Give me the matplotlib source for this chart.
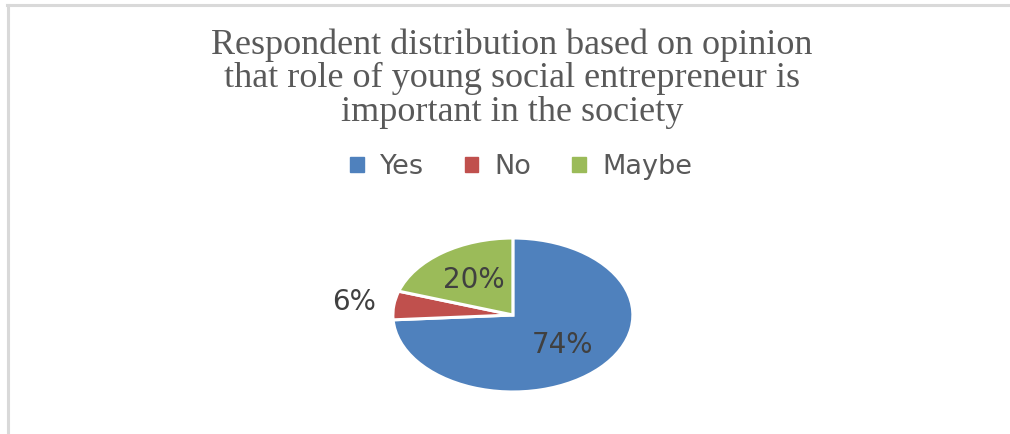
import matplotlib
matplotlib.use("Agg")
import matplotlib.pyplot as plt
import numpy as np

# data
categories = ["Yes", "No", "Maybe"]
shares = [74, 6, 20]
colors = ["#4F81BD", "#C0504D", "#9BBB59"]
label_dist = [0.57, 1.33, 0.56]

title = ("Respondent distribution based on opinion\n"
         "that role of young social entrepreneur is\n"
         "important in the society")

fig = plt.figure(figsize=(10.10, 4.34), dpi=100)

# light grey chart frame (top and left only, as cropped in the source)
fig.add_artist(plt.Line2D([0.007, 1.0], [0.988, 0.988], color="#d9d9d9", lw=2.2))
fig.add_artist(plt.Line2D([0.008, 0.008], [0.0, 0.988], color="#d9d9d9", lw=2.2))

fig.text(0.507, 0.935, title, ha="center", va="top", family="Liberation Serif",
         fontsize=26, color="#595959", linespacing=1.02)

ax = fig.add_axes([0.389, 0.0968, 0.2376, 0.3548])
wedges, _ = ax.pie(shares, colors=colors, startangle=90, counterclock=False,
                   wedgeprops=dict(edgecolor="white", linewidth=2.2))
ax.set_aspect("auto")
ax.set_xlim(-1, 1)
ax.set_ylim(-1, 1)

for w, val, d in zip(wedges, shares, label_dist):
    ang = np.deg2rad((w.theta1 + w.theta2) / 2)
    ax.text(d * np.cos(ang), d * np.sin(ang), f"{val}%", ha="center", va="center",
            fontsize=20, color="#404040", clip_on=False)

handles = [plt.Rectangle((0, 0), 1, 1, color=c) for c in colors]
fig.legend(handles, categories, loc="center", bbox_to_anchor=(0.516, 0.615), ncol=3,
           frameon=False, fontsize=19.5, handlelength=0.5, handleheight=0.5,
           handletextpad=0.6, columnspacing=1.5, labelcolor="#595959")

fig.savefig("out.png", dpi=100)
